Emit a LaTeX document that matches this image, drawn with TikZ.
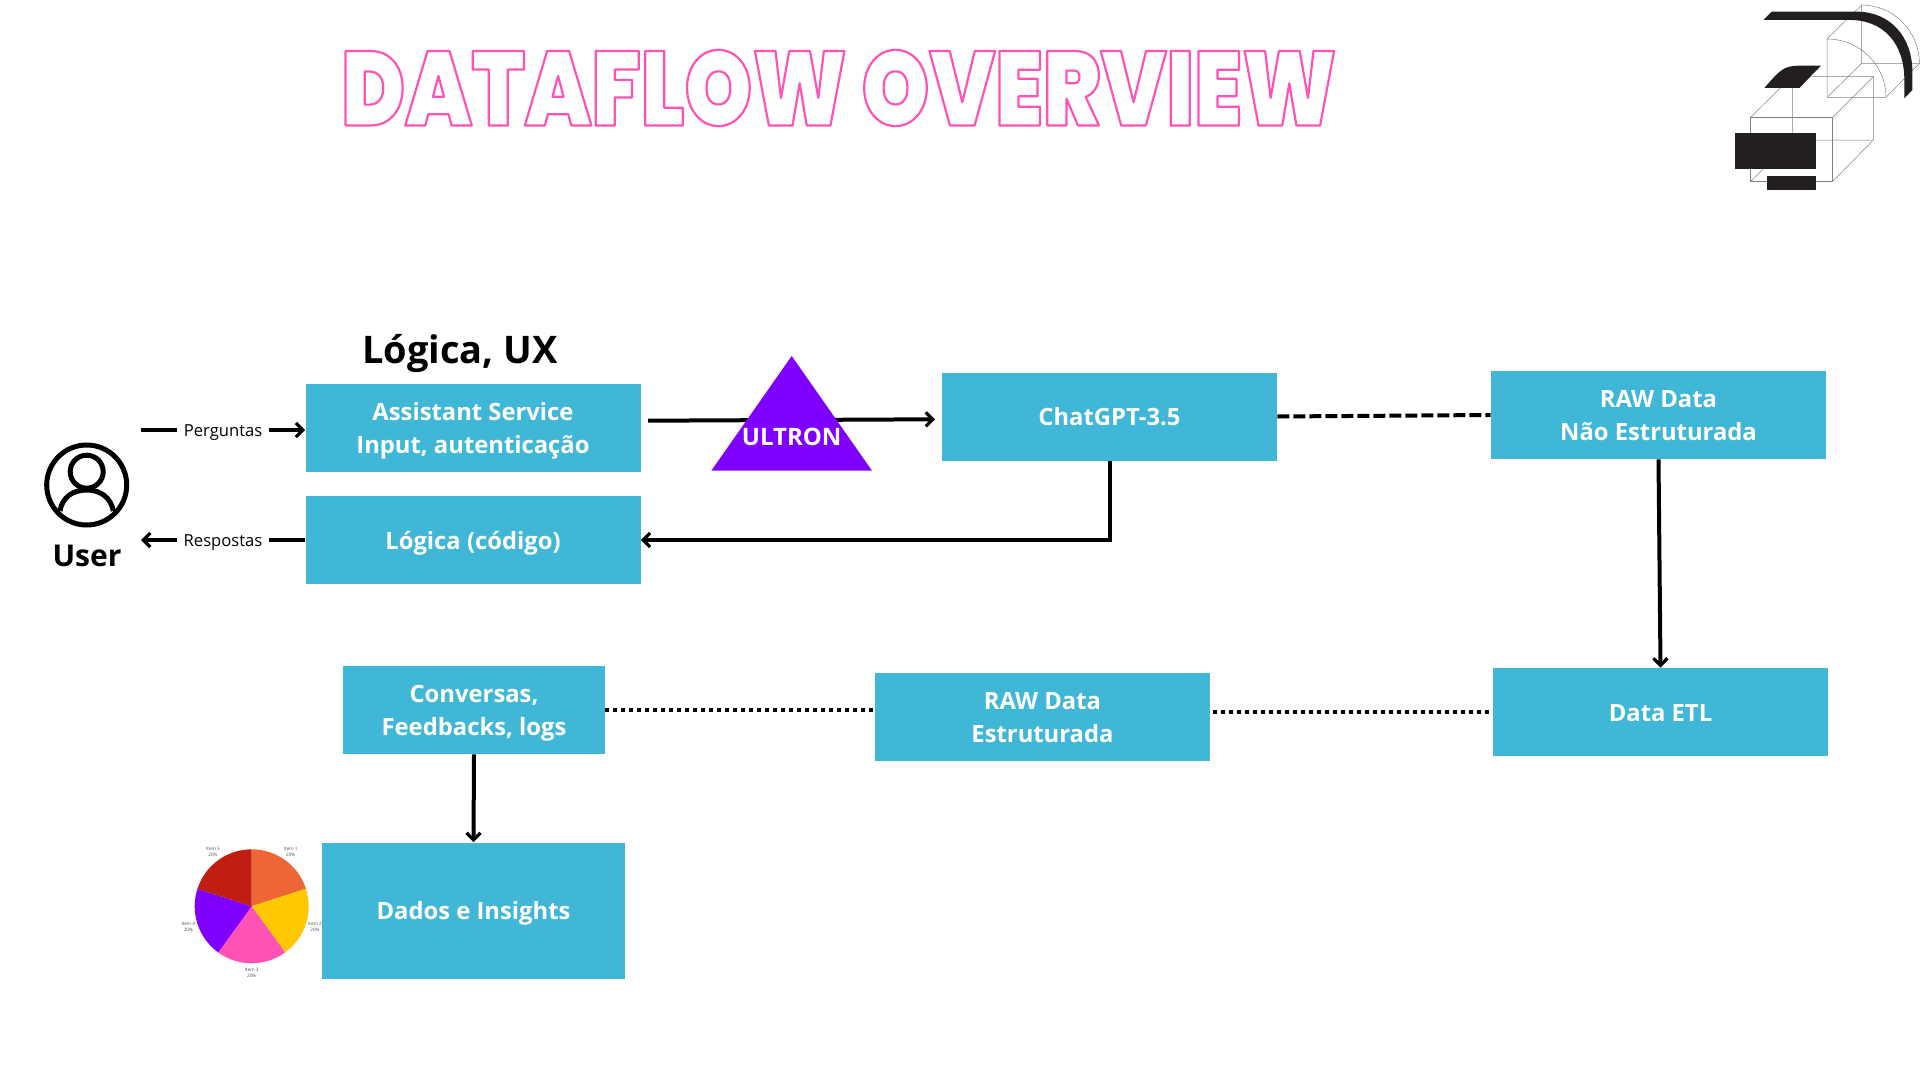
\documentclass[tikz,border=0pt]{standalone}
\usepackage{fontspec}
\setmainfont{Open Sans}
\newfontfamily\titlefont{Poppins Black}[FakeStretch=0.82]
\usetikzlibrary{arrows.meta}
\definecolor{boxblue}{HTML}{40B7D7}
\definecolor{titlepink}{HTML}{FF52B5}
\definecolor{logoblack}{HTML}{231F20}
\definecolor{ultronviolet}{HTML}{7F00FF}
\definecolor{pieorange}{HTML}{EF6636}
\definecolor{pieyellow}{HTML}{FFC800}
\definecolor{piered}{HTML}{C01E10}
\tikzset{
  box/.style={fill=boxblue, text=white, font=\fontsize{11.9}{16.5}\selectfont\bfseries, align=center, inner sep=0pt, minimum width=167.5pt, minimum height=44pt, text height=11pt, text depth=2pt},
  twolines/.style={text height=27.5pt},
  flow/.style={line width=2pt, ->, >={Straight Barb[length=3.5pt,width=7pt,line width=1.6pt]}},
  flowline/.style={line width=2pt},
  talk/.style={fill=white, font=\fontsize{8.3}{10}\selectfont, inner xsep=3.3pt, inner ysep=1pt, text height=7.5pt, text depth=1.5pt},
  piece/.style={draw=gray, line width=0.25pt},
  itemlabel/.style={font=\fontsize{2.3}{3.2}\selectfont, text=black!70, align=center, inner sep=0pt}
}
\begin{document}
\begin{tikzpicture}[x=0.5pt, y=-0.5pt]
  \useasboundingbox (0,0) rectangle (1920,1080);
  % titulo
  \node[inner sep=0pt, text=titlepink] (title) at (839,88) {\special{pdf:code q 1 Tr 1.1 w 1 j 1 0.32 0.71 RG}\titlefont\fontsize{52.5}{60}\selectfont DATAFLOW OVERVIEW\special{pdf:code Q}};
  % logo
  \begin{scope}[shift={(1680,0)}, x=0.16667pt, y=-0.16667pt]
    \draw[piece] (441,292) -- (441,117) arc (-90:0:177 and 175) -- cycle;
    \draw[piece] (545,190) -- (545,15) arc (-90:0:173 and 175) -- cycle;
    \draw[piece] (441,117) -- (545,15) (441,292) -- (545,190) (618,292) -- (718,190);
    \draw[piece] (212,352) rectangle (458,544);
    \draw[piece] (212,352) -- (335,230) (458,352) -- (580,230) -- (580,420) -- (458,544);
    \draw[piece] (395,230) -- (580,230) (408,420) -- (580,420) (212,544) -- (250,507) (337,264) -- (337,398);
    \fill[logoblack] (250,60) -- (275,35) -- (530,35) .. controls (630,35) and (697,110) .. (697,215) -- (697,270) -- (673,295) -- (673,240) .. controls (673,130) and (610,60) .. (510,60) -- cycle;
    \fill[logoblack] (253,264) -- (358,264) -- (423,197) -- (360,197) .. controls (310,197) and (300,210) .. cycle;
    \fill[logoblack] (165,398) rectangle (408,507);
    \fill[logoblack] (262,529) rectangle (408,571);
  \end{scope}
  % caixas
  \node[box, twolines] (assist) at (473,428) {Assistant Service\\Input, autenticação};
  \node[box] (logica) at (473,540) {Lógica (código)};
  \node[box] (chat) at (1109.5,416.5) {ChatGPT-3.5};
  \node[box, twolines] (rawne) at (1658.5,415) {RAW Data\\Não Estruturada};
  \node[box] (etl) at (1660.5,712) {Data ETL};
  \node[box, twolines] (rawe) at (1042.5,717) {RAW Data\\Estruturada};
  \node[box, twolines, minimum width=131pt] (conversas) at (474,710) {Conversas,\\Feedbacks, logs};
  \node[box, minimum width=151.5pt, minimum height=68pt] (dados) at (473.5,910.5) {Dados e Insights};
  \node[font=\fontsize{19}{24}\selectfont\bfseries, inner sep=0pt] (titulologica) at (460,353.5) {Lógica, UX};
  % usuario
  \node[circle, draw, line width=2.5pt, minimum size=40pt, inner sep=0pt] (user) at (86.7,485) {};
  \draw[line width=2.5pt] (86.7,471.7) circle (16.5);
  \draw[line width=2.5pt] (60,511) .. controls (62,498) and (72,490) .. (86.7,490) .. controls (101,490) and (111,498) .. (113.3,511);
  \node[font=\fontsize{15}{18}\selectfont\bfseries, inner sep=0pt] (userlabel) at (87,556) {User};
  % setas do usuario
  \coordinate (userin) at (141,430);
  \coordinate (userout) at (141,540);
  \draw[flow] (userin) -- node[talk, pos=0.5] (perguntas) {Perguntas} (assist.west |- userin);
  \draw[flow] (logica.west |- userout) -- node[talk, pos=0.5] (respostas) {Respostas} (userout);
  % ultron
  \coordinate (ultronin) at (648,420.7);
  \coordinate (ultronout) at (935,419.3);
  \draw[flow] (ultronin) -- (ultronout);
  \fill[ultronviolet] (791.7,356) -- (872,470.7) -- (711.3,470.7) -- cycle;
  \node[font=\fontsize{12}{14}\selectfont\bfseries, text=white, inner sep=0pt] (ultron) at (791.7,436.7) {ULTRON};
  % ligacoes
  \draw[flowline, dash pattern=on 6pt off 2pt] (chat.east) -- (rawne.west);
  \draw[flow] (chat.south) |- (logica.east);
  \draw[flow] (rawne.south) -- (etl.north);
  \coordinate (pontoa) at (605,710.3);
  \coordinate (pontob) at (875,710.3);
  \coordinate (pontoc) at (1213,711.5);
  \coordinate (pontod) at (1489,711.5);
  \draw[flowline, dash pattern=on 2pt off 2pt] (pontoa) -- (pontob);
  \draw[flowline, dash pattern=on 2pt off 2pt] (pontoc) -- (pontod);
  \draw[flow] (conversas.south) -- (dados.north);
  % pizza
  \coordinate (pie) at (251.7,906.3);
  \foreach \a/\c in {-90/pieorange,-18/pieyellow,54/titlepink,126/ultronviolet,198/piered}
    \fill[\c] (pie) -- ++(\a:57) arc (\a:\a+72:57) -- cycle;
  \node[itemlabel] (item1) at (290.7,852) {Item 1\\20\%};
  \node[itemlabel] (item2) at (315,927) {Item 2\\20\%};
  \node[itemlabel] (item3) at (251.7,973) {Item 3\\20\%};
  \node[itemlabel] (item4) at (188.3,927) {Item 4\\20\%};
  \node[itemlabel] (item5) at (213,852) {Item 5\\20\%};
\end{tikzpicture}
\end{document}
